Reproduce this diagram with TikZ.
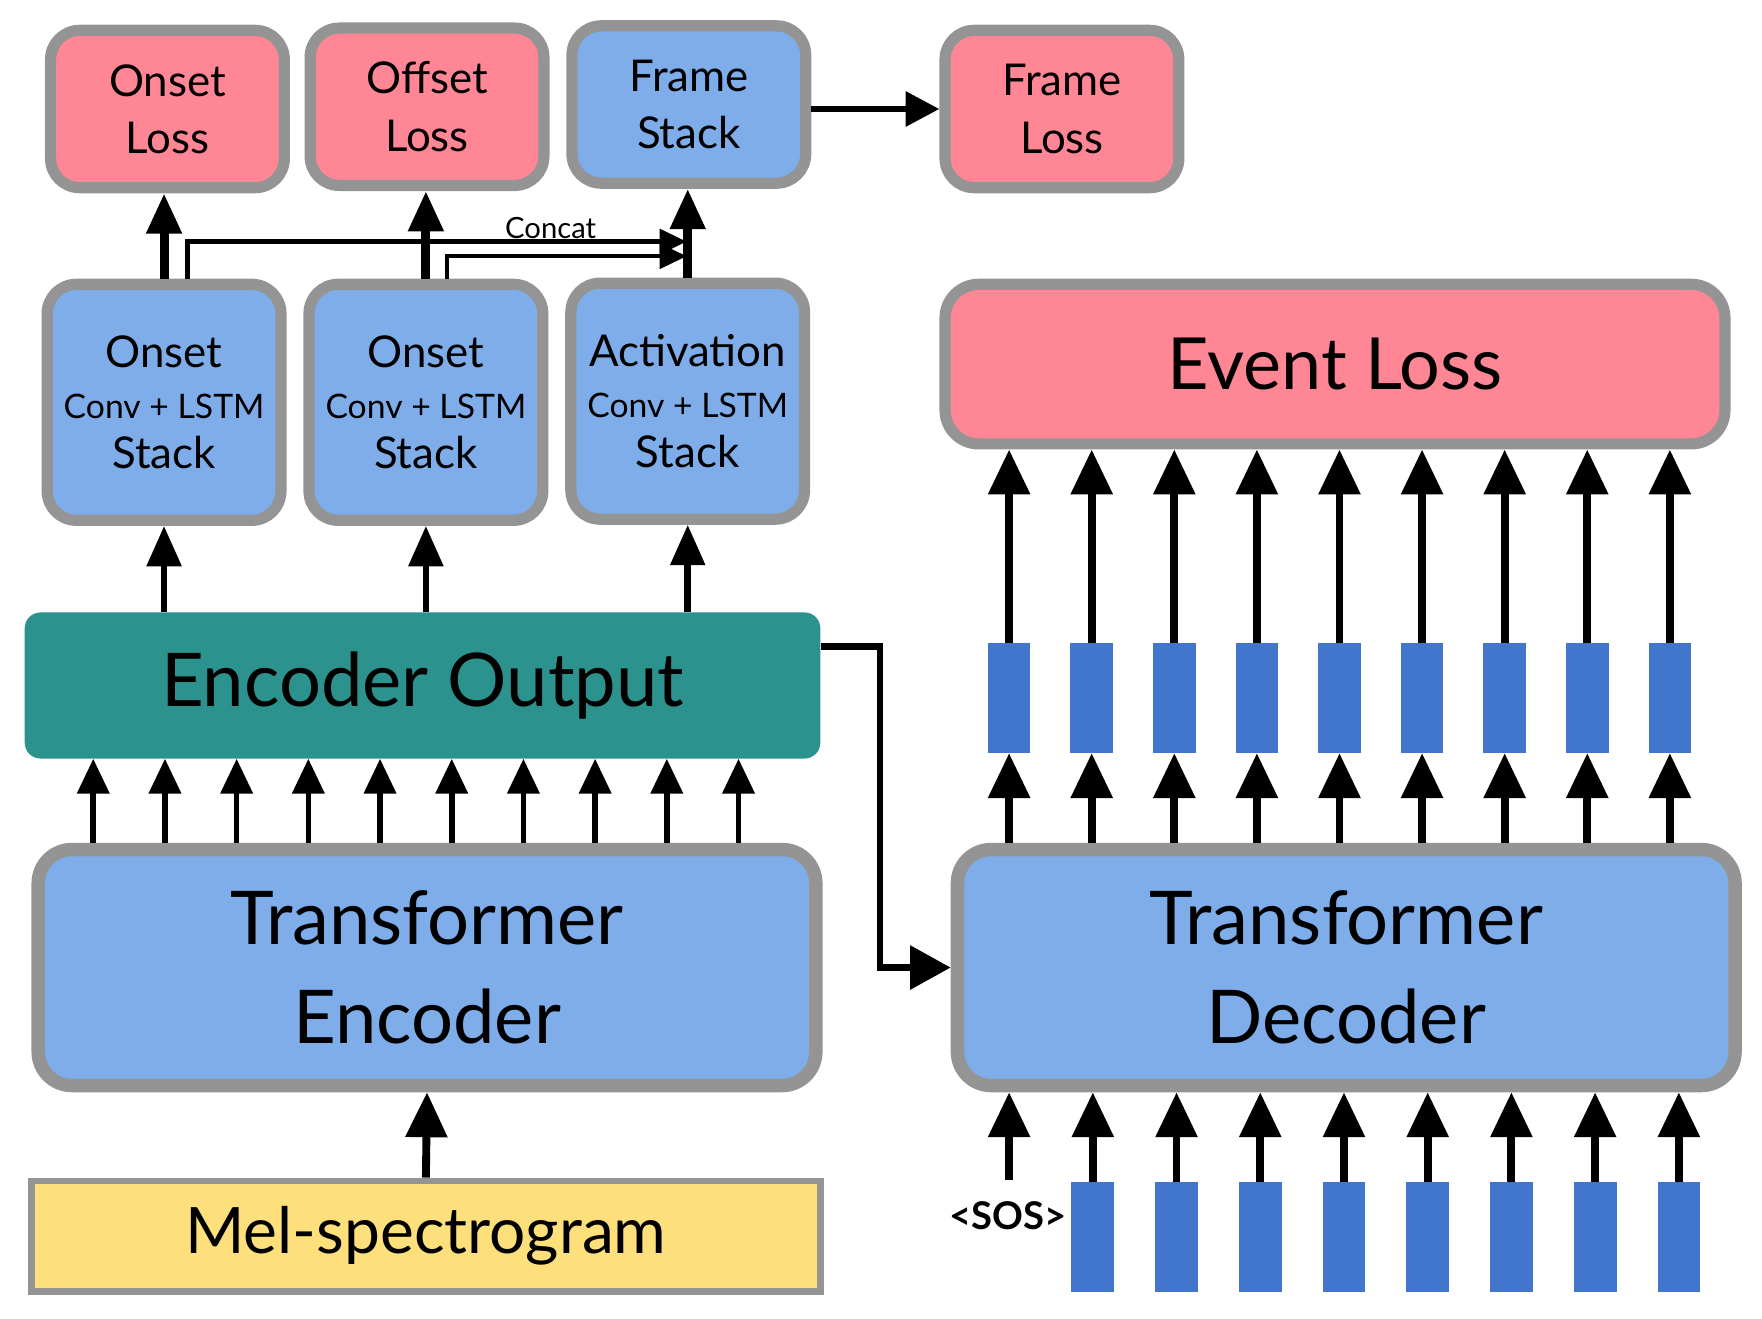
\documentclass[tikz,border=0pt]{standalone}
\usepackage{fontspec}
\setmainfont{Lato}
\usepackage{tikz}
\usetikzlibrary{arrows.meta}
\definecolor{lossred}{HTML}{FF8795}
\definecolor{stackblue}{HTML}{7EADE9}
\definecolor{encteal}{HTML}{2C928D}
\definecolor{melyellow}{HTML}{FDE07B}
\definecolor{tokblue}{HTML}{4176CC}
\definecolor{rimgray}{HTML}{949494}
\newcommand{\rimw}{10pt}
\newcommand{\bigrimw}{12pt}
\newcommand{\tokw}{38pt}
\newcommand{\tokh}{98pt}

\tikzset{
    smallbox/.style = {draw=rimgray, line width=\rimw, rounded corners=26pt, minimum width=208pt, inner sep=0pt, align=center, font=\fontsize{39}{51}\selectfont},
    lossbox/.style = {smallbox, fill=lossred, minimum height=140pt},
    framebox/.style = {smallbox, fill=stackblue, minimum height=140pt},
    convbox/.style = {smallbox, fill=stackblue, minimum height=210pt, font=\fontsize{39}{45}\selectfont},
    bigbox/.style = {draw=rimgray, line width=\bigrimw, rounded corners=30pt, fill=stackblue, minimum width=692pt, minimum height=210pt, inner sep=0pt, align=center, font=\fontsize{66}{88}\selectfont},
    token/.style = {fill=tokblue, minimum width=\tokw, minimum height=\tokh, inner sep=0pt},
    arr/.style = {line width=8pt, -{Triangle[length=36pt, width=30pt]}},
    fatarr/.style = {line width=7pt, -{Triangle[length=40pt, width=36pt]}},
    encarr/.style = {line width=5pt, -{Triangle[length=31pt, width=28pt]}},
    elbowarr/.style = {line width=6pt, -{Triangle[length=36pt, width=38pt]}},
    catarr/.style = {line width=4pt, -{Triangle[length=24pt, width=22pt]}}
}

\begin{document}
\begin{tikzpicture}[x=1pt, y=-1pt]
    %\draw[help lines, step=100pt] (0,0) grid (1568,1173);
    \useasboundingbox (0,0) rectangle (1568,1173);

    % losses and frame stack
    \node[lossbox] (onsetloss) at (149,97) {Onset\\Loss};
    \node[lossbox] (offsetloss) at (380,95) {Offset\\Loss};
    \node[framebox] (framestack) at (613,93) {Frame\\Stack};
    \node[lossbox] (frameloss) at (945,97) {Frame\\Loss};

    % conv + lstm stacks
    \node[convbox] (onsetstack) at (146,358) {Onset\\{\fontsize{30}{45}\selectfont Conv + LSTM}\\Stack};
    \node[convbox] (offsetstack) at (379,358) {Onset\\{\fontsize{30}{45}\selectfont Conv + LSTM}\\Stack};
    \node[convbox] (actstack) at (612,357) {Activation\\{\fontsize{30}{45}\selectfont Conv + LSTM}\\Stack};

    \node[fill=encteal, rounded corners=14pt, minimum width=708pt, minimum height=130pt, font=\fontsize{66}{80}\selectfont] (encout) at (376,610) {Encoder Output};
    \node[bigbox] (encoder) at (380,861) {Transformer\\Encoder};
    \node[draw=rimgray, line width=6pt, fill=melyellow, minimum width=702pt, minimum height=98pt, font=\fontsize{57}{64}\selectfont] (mel) at (379,1100) {Mel-spectrogram};

    \node[draw=rimgray, line width=\rimw, rounded corners=30pt, fill=lossred, minimum width=694pt, minimum height=142pt, font=\fontsize{64}{80}\selectfont] (eventloss) at (1188,324) {Event Loss};
    \node[bigbox] (decoder) at (1198,861) {Transformer\\Decoder};

    % left column arrows
    \draw[arr] (onsetstack.north) -- (onsetstack.north |- onsetloss.south);
    \draw[arr] (offsetstack.north) -- (offsetstack.north |- offsetloss.south);
    \draw[arr] (actstack.north) -- (actstack.north |- framestack.south);
    \draw[elbowarr, -{Triangle[length=30pt, width=30pt]}] (framestack.east |- frameloss.west) -- (frameloss.west);

    \coordinate (cattop) at (611,215);
    \coordinate (catlow) at (611,228);
    \draw[catarr] ([xshift=21pt]onsetstack.north) |- (cattop);
    \draw[catarr] ([xshift=19pt]offsetstack.north) |- (catlow);
    \node[font=\fontsize{26}{30}\selectfont] (catlbl) at (490,203) {Concat};

    \draw[arr, line width=6pt] (encout.north -| onsetstack.south) -- (onsetstack.south);
    \draw[arr, line width=6pt] (encout.north -| offsetstack.south) -- (offsetstack.south);
    \draw[arr, line width=6pt] (encout.north -| actstack.south) -- (actstack.south);

    \foreach \i in {0,...,9} {
        \pgfmathsetmacro{\ex}{83 + 63.8 * \i}
        \coordinate (ea\i) at (\ex,710);
        \draw[encarr] (encoder.north -| ea\i) -- (encout.south -| ea\i);
    }
    \draw[fatarr] (mel.north) -- (encoder.south);

    % encoder output into the decoder
    \draw[elbowarr] ([yshift=35pt]encout.east) -- ++(53pt,0) |- (decoder.west);

    % decoder outputs
    \foreach \i in {0,...,8} {
        \pgfmathsetmacro{\tx}{898 + 73.5 * \i}
        \node[token] (tok\i) at (\tx,621) {};
        \draw[fatarr] (tok\i.north) -- (tok\i.north |- eventloss.south);
        \draw[fatarr] (decoder.north -| tok\i.south) -- (tok\i.south);
    }

    % decoder inputs
    \node[font=\bfseries\fontsize{34}{40}\selectfont] (sos) at (897,1082) {<SOS>};
    \coordinate (sostop) at (898,1050);
    \draw[fatarr] (sostop) -- (sostop |- decoder.south);
    \foreach \i in {1,...,8} {
        \pgfmathsetmacro{\tx}{898 + 74.5 * \i}
        \node[token] (inp\i) at (\tx,1101) {};
        \draw[fatarr] (inp\i.north) -- (inp\i.north |- decoder.south);
    }
\end{tikzpicture}
\end{document}
